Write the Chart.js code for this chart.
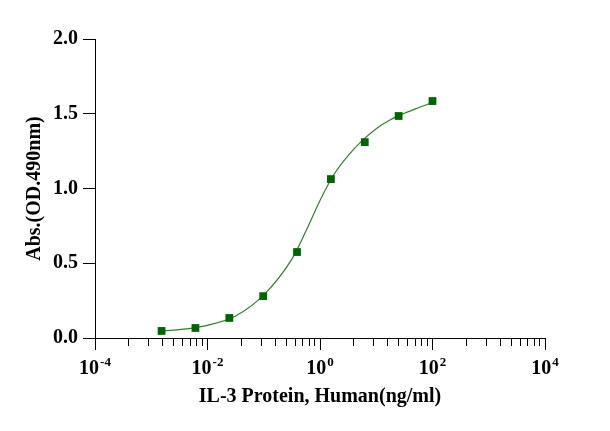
<!DOCTYPE html>
<html>
<head>
<meta charset="utf-8">
<script src="https://cdn.jsdelivr.net/npm/chart.js@4.4.1/dist/chart.umd.min.js"></script>
<style>
    html, body { margin: 0; padding: 0; background: #fff; }
    #wrap { width: 610px; height: 431px; }
</style>
</head>
<body>
<div id="wrap"><canvas id="chart" width="610" height="431"></canvas></div>
<script>
// measured points: concentration (ng/ml) and OD490
const concentrations = [100, 25, 6.25, 1.5625, 0.390625, 0.09765625, 0.0244140625, 0.006103515625, 0.00152587890625];
const absorbance = [1.585, 1.485, 1.31, 1.063, 0.575, 0.28, 0.134, 0.067, 0.047];

// fitted curve
const fitX = [0.0015, 0.00316, 0.01, 0.0316, 0.1, 0.316, 0.562, 1, 1.78, 3.16, 5.62, 10, 17.8, 31.6, 56.2, 100];
const fitY = [0.047, 0.056, 0.085, 0.147, 0.288, 0.528, 0.715, 0.92, 1.095, 1.22, 1.32, 1.40, 1.46, 1.503, 1.54, 1.575];

// axis ticks
const xMajorTicks = [1e-4, 1e-2, 1, 1e2, 1e4];
const xMinorSteps = [4, 9, 16, 25, 36, 49, 64, 81];
const yTicks = [0, 0.5, 1.0, 1.5, 2.0];

const FAMILY = "'Liberation Serif', 'Times New Roman', serif";
const FONT = { family: FAMILY, size: 20, weight: 'bold' };

function buildXTicks() {
    const ticks = [];
    xMajorTicks.forEach((m, i) => {
        ticks.push({ value: m, major: true });
        if (i < xMajorTicks.length - 1) {
            xMinorSteps.forEach(k => ticks.push({ value: m * k, major: false }));
        }
    });
    return ticks;
}

const xTicks = buildXTicks();

// draws "10" with a raised exponent under each major x tick
const powerLabels = {
    id: 'powerLabels',
    afterDraw(chart) {
        const scale = chart.scales.x;
        const ctx = chart.ctx;
        ctx.save();
        ctx.fillStyle = '#000';
        ctx.textAlign = 'left';
        ctx.textBaseline = 'alphabetic';
        xMajorTicks.forEach(v => {
            const base = '10';
            const exp = String(Math.round(Math.log10(v)));
            ctx.font = 'bold 20px ' + FAMILY;
            const wb = ctx.measureText(base).width;
            ctx.font = 'bold 13px ' + FAMILY;
            const we = ctx.measureText(exp).width;
            const x0 = scale.getPixelForValue(v) - (wb + 1 + we) / 2;
            ctx.font = 'bold 20px ' + FAMILY;
            ctx.fillText(base, x0, 374);
            ctx.font = 'bold 13px ' + FAMILY;
            ctx.fillText(exp, x0 + wb + 1, 366);
        });
        ctx.restore();
    }
};

new Chart(document.getElementById('chart'), {
    type: 'scatter',
    data: {
        datasets: [
            {
                label: 'fit',
                data: fitX.map((x, i) => ({ x: x, y: fitY[i] })),
                showLine: true,
                borderColor: '#2f7f2f',
                borderWidth: 1.2,
                pointRadius: 0,
                cubicInterpolationMode: 'monotone',
                order: 2
            },
            {
                label: 'IL-3',
                data: concentrations.map((x, i) => ({ x: x, y: absorbance[i] })),
                pointStyle: 'rect',
                pointRadius: 5.5,
                backgroundColor: '#006400',
                borderWidth: 0,
                order: 1
            }
        ]
    },
    options: {
        responsive: false,
        animation: false,
        layout: { padding: { top: 39, right: 65, left: 0, bottom: 0 } },
        plugins: {
            legend: { display: false },
            tooltip: { enabled: false }
        },
        scales: {
            x: {
                type: 'logarithmic',
                min: 1e-4,
                max: 1e4,
                afterBuildTicks: scale => { scale.ticks = xTicks.map(t => ({ value: t.value, major: t.major })); },
                afterFit: scale => { scale.height = 93; },
                grid: {
                    drawOnChartArea: false,
                    tickLength: 12,
                    color: '#000',
                    tickBorderDash: ctx => (xTicks[ctx.index] && xTicks[ctx.index].major) ? [] : [7, 30]
                },
                border: { display: true, color: '#000', width: 1 },
                ticks: {
                    autoSkip: false,
                    maxRotation: 0,
                    color: '#000',
                    font: FONT,
                    padding: 6,
                    callback: () => ''
                },
                title: {
                    display: true,
                    text: 'IL-3 Protein, Human(ng/ml)',
                    color: '#000',
                    font: FONT,
                    padding: { top: 0, bottom: 22 }
                }
            },
            y: {
                min: 0,
                max: 2,
                afterBuildTicks: scale => { scale.ticks = yTicks.map(v => ({ value: v })); },
                afterFit: scale => { scale.width = 95; },
                grid: { drawOnChartArea: false, tickLength: 12, color: '#000' },
                border: { display: true, color: '#000', width: 1 },
                ticks: {
                    color: '#000',
                    font: FONT,
                    padding: 5,
                    callback: v => Number(v).toFixed(1)
                },
                title: {
                    display: true,
                    text: 'Abs.(OD.490nm)',
                    color: '#000',
                    font: FONT,
                    padding: { top: 23, bottom: 0 }
                }
            }
        }
    },
    plugins: [powerLabels]
});
</script>
</body>
</html>
